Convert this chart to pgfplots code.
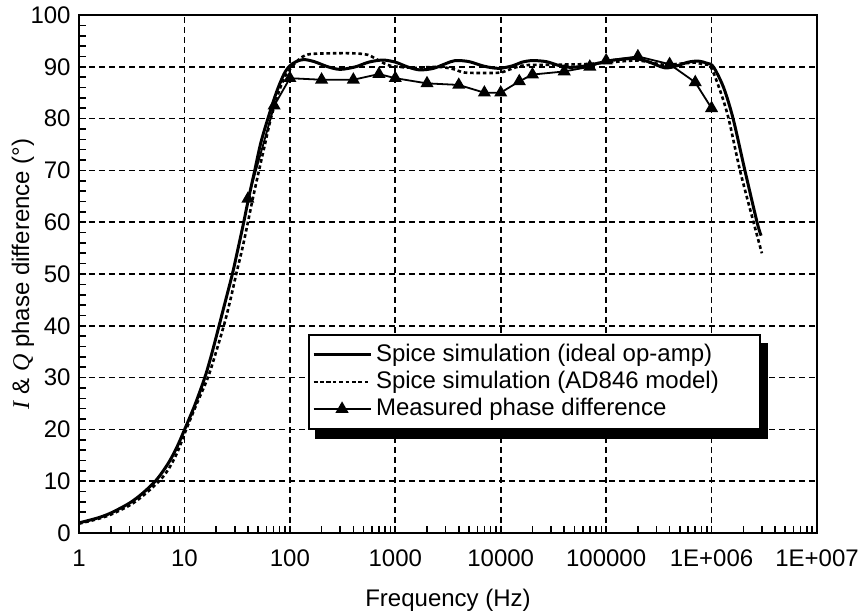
\documentclass[border=0pt]{standalone}
\usepackage{fontspec}
\setmainfont{Liberation Sans}
\newfontfamily\tim{Liberation Serif}
\usepackage{pgfplots}
\pgfplotsset{compat=1.18}
\pgfdeclarelayer{background}
\pgfsetlayers{background,main}
\begin{document}
\fontsize{12}{14}\selectfont
\begin{tikzpicture}
\begin{axis}[
 scale only axis, width=369pt, height=259pt,
 xmode=log, xmin=1, xmax=1e7, ymin=0, ymax=100,
 xtick={1,10,100,1000,10000,100000,1000000,10000000},
 xticklabels={1,10,100,1000,10000,100000,1E+006,1E+007},
 minor xtick={2,3,4,5,6,7,8,9,20,30,40,50,60,70,80,90,200,300,400,500,600,700,800,900,2000,3000,4000,5000,6000,7000,8000,9000,2e4,3e4,4e4,5e4,6e4,7e4,8e4,9e4,2e5,3e5,4e5,5e5,6e5,7e5,8e5,9e5,2e6,3e6,4e6,5e6,6e6,7e6,8e6,9e6},
 ytick={0,10,20,30,40,50,60,70,80,90,100},
 yticklabels={0,10,20,30,40,50,60,70,80,90,100},
 minor y tick num=4,
 xtick pos=bottom, ytick pos=left,
 tick align=inside,
 major tick length=3.5pt, minor tick length=3.5pt,
 tick style={black, line width=0.8pt},
 axis line style={line width=1.4pt},
 grid=major,
 major grid style={black, line width=0.8pt, dash pattern=on 3.2pt off 1.8pt},
 tick label style={font=\fontsize{12}{14}\selectfont},
 xticklabel style={yshift=-4.3pt},
 xlabel={Frequency (Hz)},
 ylabel={{\tim\itshape I} \& {\tim\itshape Q} phase difference (°)},
 xlabel style={at={([yshift=-33.5pt]rel axis cs:0.5,0)}, anchor=center, font=\fontsize{12}{14}\selectfont},
 ylabel style={at={([xshift=-28pt]rel axis cs:0,0.5)}, anchor=center, font=\fontsize{12}{14}\selectfont},
 legend cell align=left,
 legend image code/.code={\draw[mark repeat=2,mark phase=2,#1] plot coordinates {(0cm,0cm) (0.5cm,0cm) (1cm,0cm)};},
 legend style={name=leg, at={(rel axis cs:0.3103,0.3842)}, anchor=north west, draw=black, line width=1.1pt, fill=white,
   inner xsep=1.5pt, inner ysep=3.2pt, font=\fontsize{12}{14}\selectfont, column sep=0pt, row sep=0pt,
   nodes={inner xsep=2pt, inner ysep=1.5pt}},
]
\addplot[black, line width=1.5pt, smooth, tension=0.5] coordinates {
(1,1.95)(1.5,2.9)(2,3.85)(3,5.75)(4,7.65)(5.4,10.2)(7,13.4)(8.5,16.6)(10,19.9)(12.5,24.6)(15.6,30)(18,34.3)(21,39.5)(24.5,44.8)(28.5,50)(32,54.6)(36,59.4)(41,65)(46,69.6)(53,75.3)(63,80.5)(75,85.2)(88,88.6)(100,90.2)(115,91.0)(135,91.4)(170,91.0)(230,90.0)(300,89.5)(420,90.0)(560,90.9)(760,91.3)(1000,90.9)(1300,90.0)(1700,89.4)(2300,89.7)(3000,90.6)(3700,91.2)(5000,91.0)(7000,90.1)(9600,89.7)(13000,90.2)(16000,90.9)(20000,91.2)(27000,91.0)(35000,90.3)(45000,89.9)(60000,90.1)(80000,90.6)(110000,91.2)(150000,91.5)(190000,91.6)(250000,91.0)(360000,89.8)(470000,90.2)(600000,90.9)(750000,91.1)(900000,90.7)(1040000,90)(1300000,86)(1600000,80)(2070000,70)(2700000,60)(2950000,57.4)
};
\addlegendentry{Spice simulation (ideal op-amp)\hspace*{20.5pt}}
\addplot[black, line width=1.3pt, dash pattern=on 1.8pt off 1.4pt, smooth, tension=0.5] coordinates {
(1,1.8)(1.5,2.7)(2,3.55)(3,5.3)(4,7.1)(5.75,10)(7,12.2)(8.5,15.4)(10.4,20)(13,24.8)(16.7,30)(20,35)(24,40.5)(27.5,45.3)(31,50)(35.5,55)(40,60)(45,65)(51,70)(58,75)(66,80)(78,85)(90,88.2)(100,89.5)(120,91.3)(150,92.4)(250,92.6)(400,92.6)(550,92.3)(700,91.2)(900,90.2)(1500,89.8)(2500,90.0)(3500,89.6)(4500,88.9)(7000,88.8)(10000,88.9)(13000,89.7)(17000,90.3)(30000,90.4)(60000,90.5)(100000,90.8)(200000,91.2)(350000,90.4)(500000,90.6)(700000,90.8)(850000,90.4)(980000,90)(1200000,85.5)(1450000,80)(1860000,70)(2500000,60)(3000000,54)
};
\addlegendentry{Spice simulation (AD846 model)}
\addplot[black, line width=0.9pt, mark=triangle*, mark size=2.9pt, mark options={solid, fill=black}] coordinates {
(40,64.5)(71,82.5)(100,87.8)(200,87.5)(400,87.5)(700,88.6)(1000,87.8)(2000,86.8)(4000,86.5)(7000,85.0)(10000,85.0)(15000,87.2)(20000,88.5)(40000,89.1)(70000,90.0)(100000,91.2)(200000,92.0)(400000,90.5)(700000,87.0)(1000000,82.0)
};
\addlegendentry{Measured phase difference}
\coordinate (SW) at (rel axis cs:0,0);
\coordinate (NE) at (rel axis cs:1,1);
\end{axis}
\begin{pgfonlayer}{background}
\fill[black] ([xshift=3.5pt,yshift=-4.5pt]leg.south west) rectangle ([xshift=3.5pt,yshift=-4.5pt]leg.north east);
\end{pgfonlayer}
\pgfresetboundingbox
\path[use as bounding box] ([xshift=-39.5pt,yshift=-41pt]SW) rectangle ([xshift=22pt,yshift=7.5pt]NE);
\end{tikzpicture}
\end{document}
